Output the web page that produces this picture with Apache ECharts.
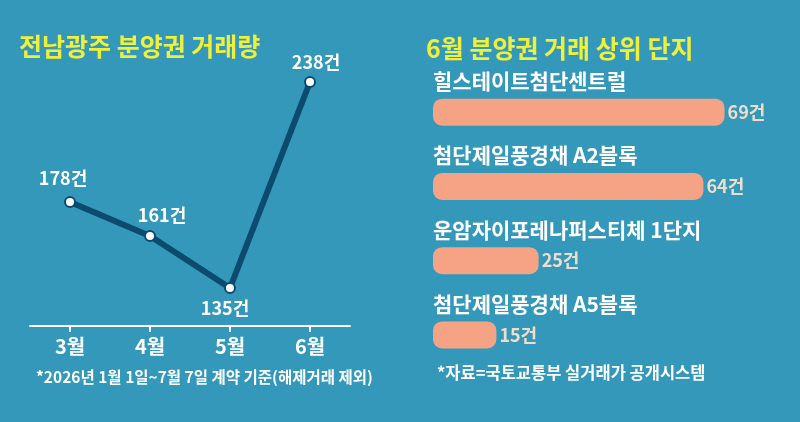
<!DOCTYPE html>
<html><head><meta charset="utf-8">
<script src="https://cdn.jsdelivr.net/npm/echarts@6/dist/echarts.min.js"></script>
<style>html,body{margin:0;padding:0;background:#3398ba;}#c{width:800px;height:422px;}</style>
</head><body><div id="c"></div>
<script>
const months = ['3월', '4월', '5월', '6월'];
const monthlyCounts = [178, 161, 135, 238];
const complexNames = ['힐스테이트첨단센트럴', '첨단제일풍경채 A2블록', '운암자이포레나퍼스티체 1단지', '첨단제일풍경채 A5블록'];
const complexCounts = [69, 64, 25, 15];
const leftTitle = '전남광주 분양권 거래량';
const rightTitle = '6월 분양권 거래 상위 단지';
const leftNote = '*2026년 1월 1일~7월 7일 계약 기준(해제거래 제외)';
const rightNote = '*자료=국토교통부 실거래가 공개시스템';
const unit = '건';

const FONT = '"Noto Sans CJK KR", "Noto Sans", sans-serif';
const labelPlacement = [
  {position: 'top', offset: [-7, -4]},
  {position: 'top', offset: [12, -1]},
  {position: 'bottom', offset: [-5, 0]},
  {position: 'top', offset: [6, 0]}
];

const chart = echarts.init(document.getElementById('c'), null, {renderer: 'canvas'});
chart.setOption({
  backgroundColor: '#3398ba',
  animation: false,
  textStyle: {fontFamily: FONT},
  title: [
    {text: leftTitle, left: 14, top: 29, textStyle: {color: '#eef03c', fontSize: 25, fontWeight: 'bold', fontFamily: FONT}},
    {text: rightTitle, left: 421, top: 31, textStyle: {color: '#eef03c', fontSize: 25, fontWeight: 'bold', fontFamily: FONT}},
    {text: leftNote, left: 31, top: 364, textStyle: {color: '#ffffff', fontSize: 15.5, fontWeight: 'bold', fontFamily: FONT}},
    {text: rightNote, left: 432, top: 359, textStyle: {color: '#ffffff', fontSize: 16.5, fontWeight: 'bold', fontFamily: FONT}}
  ],
  grid: [
    {left: 30, right: 450, top: 58, bottom: 96},
    {left: 433, right: 29, top: 75, bottom: 50}
  ],
  xAxis: [
    {type: 'category', gridIndex: 0, data: months, boundaryGap: true,
     axisLine: {show: true, lineStyle: {color: '#ffffff', width: 2}},
     axisTick: {show: true, inside: false, length: 6, alignWithLabel: true, lineStyle: {color: '#ffffff', width: 2}},
     axisLabel: {color: '#ffffff', fontSize: 20, fontWeight: 'bold', margin: 10, fontFamily: FONT}},
    {type: 'value', gridIndex: 1, min: 0, max: 80, show: false}
  ],
  yAxis: [
    {type: 'value', gridIndex: 0, min: 116, max: 250, show: false},
    {type: 'category', gridIndex: 1, data: complexNames, inverse: true, show: false}
  ],
  series: [
    {type: 'line', xAxisIndex: 0, yAxisIndex: 0, data: monthlyCounts.map((v, i) => ({
        value: v,
        label: {position: labelPlacement[i].position, offset: labelPlacement[i].offset}
      })),
     lineStyle: {color: '#0d4a6f', width: 6},
     itemStyle: {color: '#ffffff', borderColor: '#0d4a6f', borderWidth: 2},
     symbol: 'circle', symbolSize: 10,
     label: {show: true, formatter: '{c}' + unit, color: '#ffffff', fontSize: 18, fontWeight: 'bold', fontFamily: FONT}
    },
    {type: 'bar', xAxisIndex: 1, yAxisIndex: 1, data: complexCounts, barWidth: 27,
     itemStyle: {color: '#f6a385', borderRadius: 9},
     label: {show: true, position: 'right', distance: 3, formatter: '{c}' + unit, color: '#f0dccb', fontSize: 18, fontWeight: 'bold', fontFamily: FONT}
    },
    {type: 'bar', xAxisIndex: 1, yAxisIndex: 1, data: complexCounts, barWidth: 27, barGap: '-100%', silent: true,
     itemStyle: {color: 'rgba(0,0,0,0)'},
     label: {show: true, position: 'insideLeft', distance: 0, offset: [0, -31],
       formatter: p => complexNames[p.dataIndex], color: '#ffffff', fontSize: 21, fontWeight: 'bold', fontFamily: FONT}
    }
  ]
});
</script></body></html>
